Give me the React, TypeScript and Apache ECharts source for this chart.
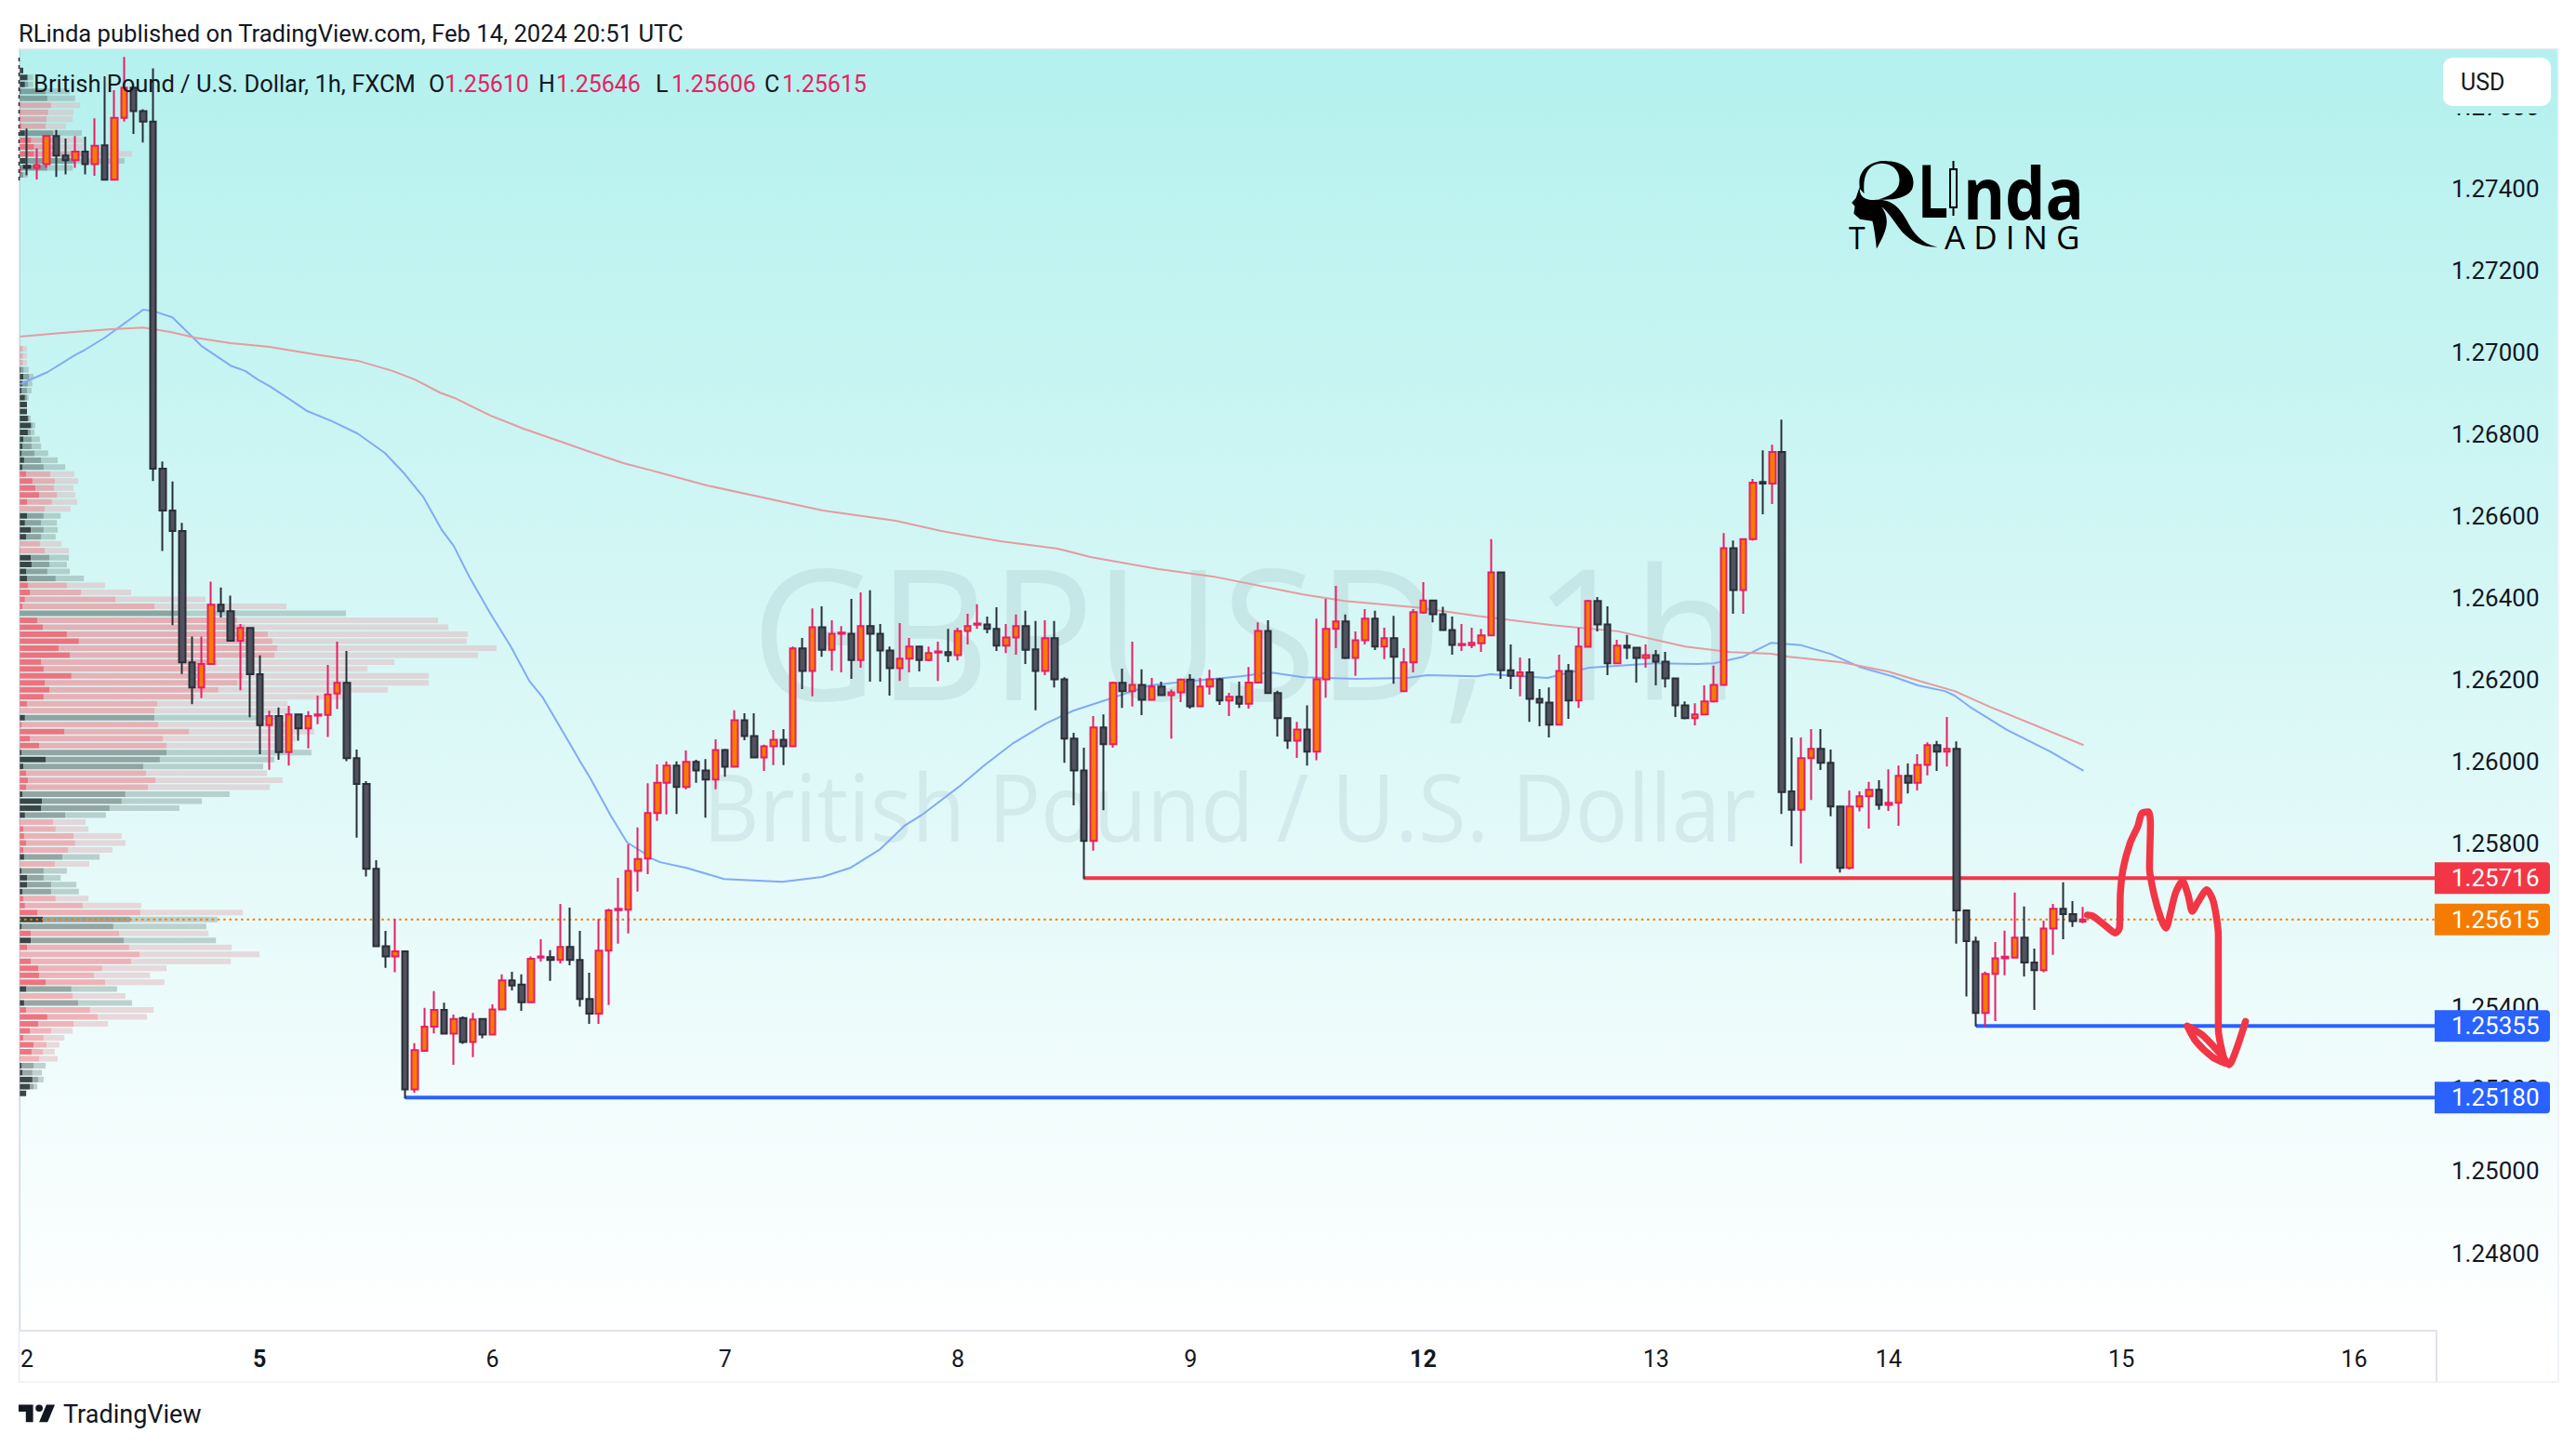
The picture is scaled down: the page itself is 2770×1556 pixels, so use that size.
import React, { useEffect, useRef } from "react";
import * as echarts from "echarts";

const FONT = "Roboto, sans-serif";
const WM_FONT = "'Open Sans', sans-serif";
const PIP = 100000;
const yMin = 1.246104;
const yMax = 1.277408;
const priceTicks = [1.248, 1.25, 1.252, 1.254, 1.258, 1.26, 1.262, 1.264, 1.266, 1.268, 1.27, 1.272, 1.274, 1.276];
const dayLabels: Record<number, string> = { 1: "2", 25: "5", 49: "6", 73: "7", 97: "8", 121: "9", 145: "12", 169: "13", 193: "14", 217: "15", 241: "16" };
const boldDays = ["5", "12"];
const slotCount = 250;

// open, close, low, high, in 1e-5 price units
const candles: number[][] = [
  [127440,127450,127423,127456],
  [127456,127451,127433,127547],[127451,127458,127423,127499],[127460,127529,127452,127529],[127529,127481,127429,127544],[127481,127470,127435,127523],
  [127470,127491,127451,127529],[127491,127460,127435,127527],[127460,127505,127432,127572],[127506,127422,127422,127675],[127422,127573,127422,127641],
  [127573,127647,127564,127722],[127647,127590,127534,127647],[127590,127564,127513,127594],[127564,126716,126686,127694],[126716,126614,126515,126734],
  [126614,126564,126334,126685],[126564,126243,126215,126584],[126243,126182,126141,126306],[126182,126239,126156,126306],[126239,126384,126237,126440],
  [126384,126368,126353,126426],[126368,126296,126296,126406],[126296,126327,126175,126337],[126327,126214,126109,126327],[126214,126090,126019,126260],
  [126090,126112,125981,126125],[126112,126024,126005,126133],[126024,126116,125991,126137],[126116,126082,126052,126116],[126082,126112,126033,126124],
  [126113,126116,126092,126162],[126115,126165,126061,126237],[126167,126193,126129,126294],[126193,126009,126002,126271],[126009,125946,125815,126030],
  [125946,125739,125720,125953],[125739,125550,125550,125760],[125550,125525,125497,125587],[125525,125537,125486,125616],[125537,125200,125178,125537],
  [125200,125296,125192,125313],[125294,125353,125293,125399],[125353,125394,125337,125440],[125394,125336,125334,125412],[125336,125372,125260,125383],
  [125374,125316,125311,125378],[125316,125371,125279,125387],[125372,125334,125325,125372],[125334,125395,125334,125408],[125395,125466,125395,125481],
  [125466,125454,125442,125487],[125456,125413,125392,125481],[125413,125519,125413,125525],[125522,125525,125512,125567],[125523,125516,125465,125540],
  [125516,125548,125508,125653],[125548,125516,125503,125644],[125516,125421,125402,125587],[125421,125385,125360,125485],[125385,125539,125360,125616],
  [125539,125637,125406,125641],[125638,125641,125556,125717],[125639,125734,125581,125799],[125734,125763,125683,125840],[125764,125875,125726,125948],
  [125875,125949,125856,125994],[125949,125991,125872,126001],[125991,125939,125873,126001],[125939,126000,125933,126028],[126000,125979,125949,126005],
  [125979,125957,125864,126007],[125957,126029,125933,126055],[126029,125988,125964,126032],[125988,126102,125988,126126],[126102,126063,126053,126119],
  [126063,126011,126011,126119],[126011,126038,125978,126042],[126038,126054,125992,126078],[126054,126038,125992,126080],[126038,126277,126038,126282],
  [126277,126222,126178,126303],[126222,126329,126160,126375],[126329,126274,126257,126380],[126274,126313,126223,126346],[126313,126316,126219,126332],
  [126313,126249,126203,126398],[126249,126332,126230,126414],[126332,126313,126196,126419],[126313,126272,126196,126337],[126272,126229,126162,126282],
  [126229,126252,126198,126339],[126252,126282,126219,126303],[126282,126249,126221,126284],[126249,126266,126246,126282],[126267,126270,126198,126294],
  [126268,126261,126244,126325],[126261,126320,126248,126328],[126320,126332,126287,126362],[126335,126338,126325,126385],[126336,126325,126314,126355],
  [126325,126284,126271,126378],[126284,126304,126266,126337],[126304,126332,126262,126360],[126332,126274,126239,126369],[126275,126222,126126,126344],
  [126222,126302,126212,126346],[126302,126202,126182,126344],[126202,126057,125998,126207],[126057,125979,125894,126071],[125979,125807,125714,126035],
  [125807,126084,125783,126112],[126084,126043,125882,126116],[126043,126193,126035,126196],[126193,126173,126132,126228],[126173,126188,126135,126294],
  [126188,126152,126114,126226],[126152,126184,126152,126205],[126184,126163,126162,126196],[126163,126170,126057,126177],[126170,126201,126146,126204],
  [126201,126136,126130,126214],[126136,126184,126136,126205],[126184,126202,126164,126225],[126202,126150,126139,126205],[126150,126159,126112,126169],
  [126159,126142,126132,126196],[126142,126194,126130,126232],[126194,126320,126194,126341],[126320,126168,126168,126346],[126168,126107,126062,126174],
  [126107,126052,126032,126109],[126052,126079,126010,126098],[126079,126025,125991,126138],[126025,126202,126004,126350],[126202,126325,126157,126398],
  [126325,126343,126278,126430],[126343,126254,126251,126360],[126254,126297,126210,126319],[126297,126350,126287,126373],[126350,126282,126273,126369],
  [126282,126302,126251,126328],[126302,126257,126191,126357],[126173,126243,126172,126278],[126243,126366,126219,126373],[126365,126394,126362,126439],
  [126394,126361,126341,126395],[126361,126322,126322,126379],[126322,126286,126262,126355],[126285,126288,126271,126337],[126285,126291,126278,126328],
  [126290,126309,126269,126325],[126309,126463,126308,126544],[126463,126224,126203,126463],[126224,126210,126178,126287],[126210,126219,126160,126255],
  [126219,126154,126098,126253],[126154,126145,126087,126178],[126145,126091,126060,126182],[126091,126222,126091,126262],[126222,126150,126105,126239],
  [126150,126282,126132,126328],[126281,126393,126279,126396],[126393,126336,126319,126403],[126336,126241,126212,126380],[126241,126284,126241,126298],
  [126284,126279,126251,126310],[126279,126254,126194,126280],[126254,126261,126230,126287],[126261,126245,126187,126273],[126245,126204,126182,126269],
  [126204,126138,126110,126204],[126138,126107,126104,126148],[126107,126116,126089,126143],[126116,126148,126116,126187],[126148,126188,126145,126235],
  [126188,126522,126188,126559],[126522,126420,126362,126541],[126420,126544,126362,126546],[126544,126682,126541,126691],[126684,126680,126605,126761],
  [126680,126757,126630,126775],[126757,125926,125873,126836],[125928,125883,125794,126060],[125883,126009,125752,126060],[126009,126032,125907,126080],
  [126032,125998,125980,126080],[125998,125891,125867,126030],[125891,125741,125730,125891],[125741,125891,125737,125930],[125891,125916,125879,125928],
  [125916,125932,125837,125951],[125932,125895,125883,125955],[125895,125900,125880,125982],[125900,125966,125844,125991],[125966,125949,125923,125996],
  [125949,125993,125930,126019],[125993,126041,125967,126048],[126041,126025,125978,126051],[126025,126032,125989,126110],[126032,125637,125556,126050],
  [125637,125562,125427,125639],[125561,125387,125354,125573],[125387,125482,125351,125488],[125482,125520,125367,125560],[125520,125524,125479,125588],
  [125522,125571,125520,125681],[125571,125510,125476,125647],[125510,125491,125394,125544],[125491,125593,125486,125612],[125593,125641,125529,125653],
  [125641,125628,125567,125706],[125628,125611,125597,125660],[125610,125615,125606,125646],
];

// [hour index, price in 1e-5 units]
const maFast: number[][] = [
  [-0.7,126923],[2.1,126952],[4.9,126993],[6,127007],[8,127036],[12,127105],[13.2,127100],[15,127086],[18,127016],[21,126968],[22.5,126955],[23.8,126934],
  [25,126918],[27.2,126884],[28.9,126857],[31.5,126832],[34.1,126802],[36.9,126755],[39,126702],[40.9,126646],[42.8,126566],[44,126528],[45.6,126453],
  [47.8,126362],[49.9,126282],[51.8,126198],[53.2,126157],[56,126044],[57,126003],[58.1,125960],[60.2,125869],[61.9,125803],[63.6,125778],[64.4,125764],
  [65.3,125755],[68,125741],[71.9,125714],[77.9,125707],[82,125719],[84.9,125741],[88,125787],[90.5,125844],[92.2,125869],[96.1,125939],[98.7,125991],
  [101.6,126044],[105.1,126094],[107.9,126125],[111.5,126153],[115.8,126187],[120.1,126198],[125.2,126209],[128.2,126219],[131.6,126207],[137.1,126203],
  [142.3,126205],[144.4,126212],[149.5,126209],[150.9,126214],[156.8,126205],[161.1,126230],[167.9,126241],[172.3,126239],[174,126241],[177,126257],
  [179.9,126291],[183,126285],[186,126264],[189,126232],[192.4,126209],[195,126187],[197.8,126173],[198.8,126162],[200.4,126134],[204.2,126078],[208.7,126025],[212.1,125978],
];
const maSlow: number[][] = [
  [-0.8,127039],[3.6,127048],[8.7,127057],[12,127061],[14.8,127050],[17.4,127036],[21,127023],[25,127014],[29.8,126995],[34.1,126980],[37.7,126955],[40,126934],
  [42.6,126902],[44.1,126889],[47.8,126846],[51.2,126814],[54.6,126786],[58.1,126757],[61.5,126730],[64.4,126712],[70.2,126675],[82.1,126614],[89.6,126589],
  [94.3,126564],[100.4,126539],[106.3,126521],[109.8,126500],[116.7,126471],[122.3,126453],[131.6,126409],[135.9,126393],[143.1,126378],[149.5,126357],
  [157.3,126334],[164.1,126319],[171,126282],[175.7,126268],[179.9,126264],[181.7,126257],[187.2,126243],[191.9,126221],[195.4,126196],[198.8,126173],[202.5,126134],[212.1,126041],
];
const sketch: number[][] = [
  [212.5,125626],[213,125624],[214.3,125601],[215.4,125582],[215.8,125594],[215.9,125681],[216.2,125741],[216.9,125802],[217.7,125843],[218.1,125874],[218.8,125878],
  [219,125847],[218.9,125741],[219.4,125673],[220.1,125616],[220.6,125594],[221.1,125635],[221.6,125681],[222.3,125709],[222.9,125673],[223.3,125635],[223.9,125658],
  [224.8,125688],[225.5,125658],[226,125575],[226,125348],[226.7,125264],[225.4,125279],[223.7,125317],[222.8,125355],[224.4,125332],[226.5,125279],[227.1,125260],[227.8,125294],[228.8,125366],
];
// [first hour index, price]
const levelRed = [109, 125716];
const levelBlueUpper = [201, 125355];
const levelBlueLower = [39, 125180];
const lastPrice = 125615;

// volume profile, bottom row first
const profileBottom = 125190;
const profileStep = 17;
const profileKinds = "dddddrrrrrrrrdrdrrrrrrdrddrrrddddrdrrrrrddddrrrdddrrrrdrrrrrrrrrrrrrrdrrrrddddrrddddrrrrrrdddddddddddddddrrr".split("");
const profileDark = [17,26,32,8,6,2,30,35,10,26,46,68,17,12,0,17,64,48,46,28,0,19,28,28,6,57,44,14,10,8,19,19,6,2,12,10,17,12,10,3,14,53,55,8,17,21,17,10,64,6,48,26,109,6,14,0,19,59,73,62,126,59,53,122,95,144,115,57,44,0,8,14,26,21,19,17,30,28,3,0,17,28,14,19,0,19,48,39,32,17,8,12,6,8,10,21,28,21,19,19,14,6,8,10,4,0,0,0];
const profileMid = [17,35,46,32,35,48,57,66,59,77,131,189,171,142,129,126,207,180,200,270,290,265,252,241,227,268,292,153,88,77,77,59,59,86,104,118,135,131,88,82,111,218,247,256,310,328,306,299,339,355,355,346,409,335,326,326,333,422,480,526,540,449,477,615,622,610,599,544,526,384,326,232,149,115,88,68,73,73,62,50,53,59,53,59,62,79,91,84,86,75,59,53,37,30,30,28,32,24,19,19,19,19,21,24,11,9,9,9];
const profileFull = [17,44,59,55,64,93,86,97,109,129,214,308,324,272,256,236,350,315,355,510,579,512,474,456,451,478,539,294,167,144,138,100,115,169,194,225,256,247,167,160,209,386,440,507,604,635,597,588,615,704,659,666,711,644,634,654,647,784,888,987,987,839,904,1105,1150,1078,1081,1034,1009,787,644,449,270,207,156,122,115,120,120,102,88,93,91,100,124,140,135,131,142,133,111,93,70,53,50,37,39,28,19,19,23,30,32,35,23,19,19,19];
const profileTopStart = 132;
const profileTopKinds = "dddrrrdrrrrdddd".split("").concat(["d"]);
const profileTopDark = [4,4,16,36,36,29,14,6,4,4,4,0,4,14,20,10];
const profileTopMid = [10,68,134,154,90,91,82,64,66,70,77,68,64,22,22,10];
const profileTopFull = [21,129,254,272,154,154,151,113,129,131,147,135,122,34,34,10];

const TV_LOGO = "M14 6H2v6h6v9h6V6Zm12 15h-7l6-15h7l-6 15Zm-7-9a3 3 0 1 0 0-6 3 3 0 0 0 0 6Z";
const R_BOWL = "M180 610C172 545 205 517 232 520C272 522 290 570 281 610C272 640 240 648 215 644C245 630 258 610 256 575C254 540 235 526 220 528C195 532 185 565 188 625Z";
const R_BODY = "M180 600C176 640 195 648 212 645C238 642 255 665 270 710C282 750 300 790 330 797C300 800 280 780 262 750C248 722 238 690 222 668C235 700 238 730 212 803C210 770 208 740 204 714L180 708L168 690L170 666L164 655L172 640Z";

const px = (p: number) => 53 + ((yMax - p) / (yMax - yMin)) * 1378;

function App() {
  const ref = useRef<HTMLDivElement>(null);
  useEffect(() => {
    document.body.style.margin = "0";
    const chart = echarts.init(ref.current!, undefined, { renderer: "svg" });
    echarts.graphic.registerShape("tvLogo", (echarts.graphic as any).extendPath(TV_LOGO, {}));
    echarts.graphic.registerShape("rBowl", (echarts.graphic as any).extendPath(R_BOWL, {}));
    echarts.graphic.registerShape("rBody", (echarts.graphic as any).extendPath(R_BODY, {}));

    const categories = Array.from({ length: slotCount }, (_, k) => String(k));
    const P = (v: number) => v / PIP;
    const pts = (a: number[][]) => a.map(([i, v]) => [i, P(v)]);
    const hourEnd = slotCount - 1.5;

    const colors: Record<string, string[]> = {
      r: ["rgba(240,90,105,0.85)", "rgba(242,106,118,0.5)", "rgba(225,182,188,0.5)"],
      d: ["rgba(40,50,50,0.9)", "rgba(68,82,76,0.5)", "rgba(142,168,162,0.5)"],
    };
    const bands: number[][] = [];
    const addRow = (row: number, kind: string, a: number, b: number, c: number) => {
      const price = P(profileBottom) + (row * profileStep) / PIP;
      const k = kind === "r" ? 0 : 1;
      if (a > 0) bands.push([price, 0, a, k, 0]);
      if (b > a) bands.push([price, a, b, k, 1]);
      if (c > b) bands.push([price, b, c, k, 2]);
    };
    profileFull.forEach((c, i) => addRow(i, profileKinds[i] || "d", profileDark[i], profileMid[i], c));
    profileTopFull.forEach((c, i) => addRow(profileTopStart + i, profileTopKinds[i], profileTopDark[i], profileTopMid[i], c));

    const levelSeries = (name: string, start: number, value: number, color: string) => ({
      name, type: "line", xAxisIndex: 2, yAxisIndex: 0, z: 3, symbol: "none", silent: true,
      data: [[start, P(value)], [hourEnd, P(value)]],
      lineStyle: { color, width: 4 },
    });

    const tag = (value: string, price: number, fill: string) => ({
      type: "group", z: 100, children: [
        { type: "rect", z: 100, shape: { x: 2618, y: px(price) - 17, width: 124, height: 34, r: [0, 4, 4, 0] }, style: { fill } },
        { type: "text", z: 101, x: 2636, y: px(price), style: { text: value, fill: "#ffffff", font: `26px ${FONT}`, verticalAlign: "middle" } },
      ],
    });
    const label = (text: string, x: number, y: number, fill: string, size = 25) => ({
      type: "text", z: 100, x, y, style: { text, fill, font: `${size}px ${FONT}`, verticalAlign: "middle" },
    });
    const logoText = (text: string, x: number, y: number, font: string, scaleX: number, lineHeight: number) => ({
      type: "text", z: 1, x, y, scaleX, style: { text, fill: "#000000", font, verticalAlign: "middle", lineHeight },
    });

    const option: any = {
      animation: false,
      backgroundColor: "#ffffff",
      textStyle: { fontFamily: FONT },
      grid: { left: 13.4, right: 150, top: 53, bottom: 125, containLabel: false },
      xAxis: [
        {
          type: "category", data: categories, boundaryGap: true, position: "bottom",
          axisTick: { show: false },
          axisLine: { lineStyle: { color: "#e0e3eb", width: 2 } },
          splitLine: { show: false },
          axisLabel: {
            interval: (idx: number) => dayLabels[idx] != null,
            margin: 18, color: "#131722", fontSize: 25, fontFamily: FONT,
            formatter: (_: string, idx: number) => {
              const d = dayLabels[idx];
              if (d == null) return "";
              return boldDays.includes(d) ? `{b|${d}}` : d;
            },
            rich: { b: { fontWeight: 700, fontSize: 25, color: "#131722", fontFamily: FONT } },
          },
        },
        { type: "value", show: false, min: -16, max: 5823, position: "top", splitLine: { show: false } },
        { type: "value", show: false, min: -1.5, max: hourEnd, position: "top", splitLine: { show: false } },
      ],
      yAxis: [{
        type: "value", position: "right", min: yMin, max: yMax, scale: true,
        axisLine: { show: true, lineStyle: { color: "rgba(110,170,170,0.45)", width: 2 } },
        axisTick: { show: false }, splitLine: { show: false },
        axisLabel: {
          customValues: priceTicks, margin: 16, color: "#131722", fontSize: 26, fontFamily: FONT,
          formatter: (v: number) => v.toFixed(5),
        },
      }],
      series: [
        {
          name: "Volume profile", type: "custom", xAxisIndex: 1, yAxisIndex: 0, z: 1, silent: true,
          encode: { x: [1, 2], y: 0 }, data: bands,
          renderItem: (_: any, api: any) => {
            const price = api.value(0);
            const a = api.coord([api.value(1), price]);
            const b = api.coord([api.value(2), price]);
            const fam = api.value(3) === 0 ? colors.r : colors.d;
            return { type: "rect", shape: { x: a[0], y: a[1] - 3, width: b[0] - a[0], height: 6 }, style: { fill: fam[api.value(4)] } };
          },
        },
        { name: "MA fast", type: "line", xAxisIndex: 2, yAxisIndex: 0, z: 2, symbol: "none", silent: true, data: pts(maFast), lineStyle: { color: "#82aaf5", width: 2 } },
        { name: "MA slow", type: "line", xAxisIndex: 2, yAxisIndex: 0, z: 2, symbol: "none", silent: true, data: pts(maSlow), lineStyle: { color: "#e59ba0", width: 2 } },
        levelSeries("Resistance", levelRed[0], levelRed[1], "#f23645"),
        levelSeries("Support upper", levelBlueUpper[0], levelBlueUpper[1], "#2962ff"),
        levelSeries("Support lower", levelBlueLower[0], levelBlueLower[1], "#2962ff"),
        {
          name: "Last price", type: "line", xAxisIndex: 2, yAxisIndex: 0, z: 3, symbol: "none", silent: true,
          data: [[-1.5, P(lastPrice)], [hourEnd, P(lastPrice)]],
          lineStyle: { color: "#f57c00", width: 2, type: [2.5, 3.8] },
        },
        {
          name: "GBPUSD", type: "candlestick", xAxisIndex: 0, yAxisIndex: 0, z: 4, barWidth: 7, silent: true,
          data: candles.map((c) => c.map(P)),
          itemStyle: { color: "#f57c00", color0: "#50535e", borderColor: "#e91e63", borderColor0: "#2a2e39", borderWidth: 2 },
        },
        {
          name: "Sketch", type: "line", xAxisIndex: 2, yAxisIndex: 0, z: 5, symbol: "none", silent: true, smooth: 0.25,
          data: pts(sketch), lineStyle: { color: "#f23645", width: 7.5, cap: "round", join: "round" },
        },
      ],
      graphic: { elements: [
        {
          type: "rect", z: -5, shape: { x: 20, y: 53, width: 2731, height: 1378 },
          style: { fill: { type: "linear", x: 0, y: 0, x2: 0, y2: 1, colorStops: [{ offset: 0, color: "#b4f1ee" }, { offset: 1, color: "#ffffff" }] } },
        },
        { type: "text", z: -4, x: 1339, y: 677, scaleX: 0.95, style: { text: "GBPUSD, 1h", fill: "rgba(110,135,150,0.14)", font: `197px ${WM_FONT}`, align: "center", verticalAlign: "middle" } },
        { type: "text", z: -4, x: 1322, y: 866, scaleX: 0.94, style: { text: "British Pound / U.S. Dollar", fill: "rgba(110,135,150,0.12)", font: `100px ${WM_FONT}`, align: "center", verticalAlign: "middle" } },
        { type: "rBowl", z: 1, x: 1900, y: 0, scaleX: 1 / 1.8, scaleY: 1 / 3, style: { fill: "#000000" } },
        { type: "rBody", z: 1, x: 1900, y: 0, scaleX: 1 / 1.8, scaleY: 1 / 3, style: { fill: "#000000" } },
        logoText("L", 2062, 203, `700 78px ${WM_FONT}`, 0.75, 58),
        { type: "line", z: 1, shape: { x1: 2100.5, y1: 173, x2: 2100.5, y2: 232 }, style: { stroke: "#000000", lineWidth: 2 } },
        { type: "rect", z: 1, shape: { x: 2097, y: 182, width: 7, height: 41 }, style: { fill: "#b9f2ef", stroke: "#000000", lineWidth: 2 } },
        logoText("nda", 2111, 206, `700 78px ${WM_FONT}`, 0.88, 44),
        logoText("T", 1988, 255, `32px ${WM_FONT}`, 1, 24),
        logoText("A D I N G", 2091, 255, `34px ${WM_FONT}`, 1.03, 24),

        { type: "rect", z: 99, shape: { x: 0, y: 0, width: 20, height: 1556 }, style: { fill: "#ffffff" } },
        { type: "line", z: 99, shape: { x1: 20, y1: 53, x2: 2751, y2: 53 }, style: { stroke: "#e0e3eb", lineWidth: 1.5 } },
        { type: "line", z: 99, shape: { x1: 20.5, y1: 53, x2: 20.5, y2: 1486 }, style: { stroke: "#e9ecf2", lineWidth: 1.5 } },
        { type: "line", z: 99, shape: { x1: 20.5, y1: 62, x2: 20.5, y2: 196 }, style: { stroke: "#2a2e39", lineWidth: 1.5, lineDash: [4, 4] } },
        { type: "line", z: 99, shape: { x1: 20, y1: 1486, x2: 2751, y2: 1486 }, style: { stroke: "#f0f3fa", lineWidth: 2 } },
        { type: "line", z: 99, shape: { x1: 2751, y1: 53, x2: 2751, y2: 1486 }, style: { stroke: "#f0f3fa", lineWidth: 2 } },
        { type: "line", z: 99, shape: { x1: 2620, y1: 1431, x2: 2620, y2: 1486 }, style: { stroke: "#e0e3eb", lineWidth: 2 } },

        label("RLinda published on TradingView.com, Feb 14, 2024 20:51 UTC", 20, 36, "#131722", 25.6),
        label("British Pound / U.S. Dollar, 1h, FXCM", 36, 90, "#131722", 25.5),
        label("O", 461, 90, "#131722"), label("1.25610", 478, 90, "#e91e63"),
        label("H", 579, 90, "#131722"), label("1.25646", 598, 90, "#e91e63"),
        label("L", 705, 90, "#131722"), label("1.25606", 722, 90, "#e91e63"),
        label("C", 822, 90, "#131722"), label("1.25615", 841, 90, "#e91e63"),

        { type: "rect", z: 99, shape: { x: 2622, y: 112, width: 128, height: 10 }, style: { fill: "#b6f1ee" } },
        { type: "rect", z: 100, shape: { x: 2627, y: 62, width: 116, height: 52, r: 10 }, style: { fill: "#ffffff" } },
        label("USD", 2646, 88, "#131722", 25),

        tag("1.25716", levelRed[1] / PIP, "#f23645"),
        tag("1.25615", lastPrice / PIP, "#f57c00"),
        tag("1.25355", levelBlueUpper[1] / PIP, "#2962ff"),
        tag("1.25180", levelBlueLower[1] / PIP, "#2962ff"),

        { type: "tvLogo", z: 100, x: 17.4, y: 1503, scaleX: 1.3, scaleY: 1.25, style: { fill: "#131722" } },
        label("TradingView", 68, 1521, "#131722", 27),
      ] },
    };
    chart.setOption(option);
    return () => chart.dispose();
  }, []);
  return <div ref={ref} style={{ width: 2770, height: 1556, position: "absolute", left: 0, top: 0 }} />;
}

export default App;
